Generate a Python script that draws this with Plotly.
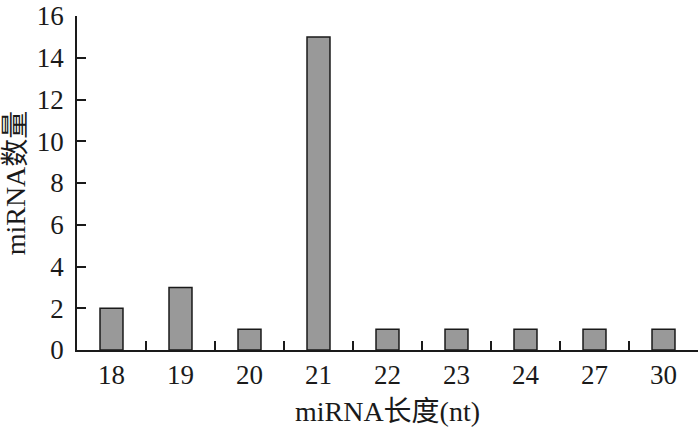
import plotly.graph_objects as go

categories = ["18", "19", "20", "21", "22", "23", "24", "27", "30"]
counts = [2, 3, 1, 15, 1, 1, 1, 1, 1]
y_ticks = [0, 2, 4, 6, 8, 10, 12, 14, 16]

font_family = "Liberation Serif, Times New Roman, Noto Sans CJK SC, serif"

fig = go.Figure(
    go.Bar(
        x=categories,
        y=counts,
        marker=dict(color="#999999", line=dict(color="#1a1a1a", width=1.5)),
    )
)

fig.update_layout(
    width=700,
    height=431,
    margin=dict(l=77, r=2, t=16, b=81),
    plot_bgcolor="white",
    paper_bgcolor="white",
    bargap=0.667,
    showlegend=False,
    font=dict(family=font_family, size=27, color="#1a1a1a"),
)

fig.update_xaxes(
    type="category",
    automargin=False,
    showline=True,
    linecolor="#1a1a1a",
    linewidth=1.5,
    ticks="inside",
    tickson="boundaries",
    ticklen=9,
    tickwidth=1.5,
    tickcolor="#1a1a1a",
    showgrid=False,
    ticklabeloverflow="allow",
    title=dict(text="miRNA长度(nt)", standoff=12, font=dict(size=28)),
    tickfont=dict(size=27),
)

fig.update_yaxes(
    range=[0, 16],
    tickvals=y_ticks,
    automargin=False,
    showline=True,
    linecolor="#1a1a1a",
    linewidth=1.5,
    ticks="inside",
    ticklen=9,
    tickwidth=1.5,
    tickcolor="#1a1a1a",
    showgrid=False,
    zeroline=False,
    ticklabelstandoff=6,
    ticklabeloverflow="allow",
    title=dict(text="miRNA数量", standoff=12, font=dict(size=28)),
    tickfont=dict(size=27),
)

fig.write_html(
    "out.html",
    config={"displayModeBar": False},
    post_script="document.body.style.margin='0';document.body.style.overflow='hidden';",
)
